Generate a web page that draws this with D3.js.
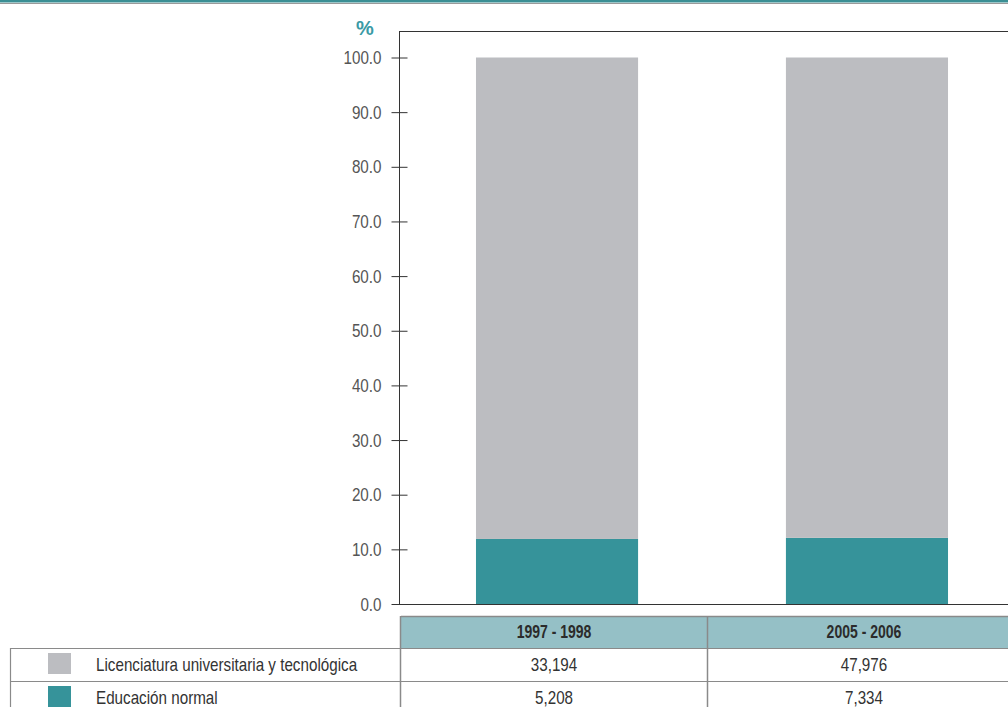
<!DOCTYPE html>
<html><head><meta charset="utf-8">
<script src="https://cdn.jsdelivr.net/npm/d3@7"></script>
<style>
html,body{margin:0;padding:0;background:#fff;}
svg{display:block;font-family:"Liberation Sans",Arial,sans-serif;}
</style></head>
<body>
<svg id="c" width="1008" height="707"></svg>
<script>
const categories = ["1997 - 1998", "2005 - 2006"];
const seriesNames = ["Licenciatura universitaria y tecnológica", "Educación normal"];
const licenciaturaPct = [88.1, 87.9];
const normalPct = [11.9, 12.1];
const licenciaturaCount = [33194, 47976];
const normalCount = [5208, 7334];
const yTicks = [0, 10, 20, 30, 40, 50, 60, 70, 80, 90, 100];

const svg = d3.select("#c");
const W = 1008;
const colGray = "#bcbdc1", colTeal = "#36939a", colHead = "#95c0c6";

// top decorative rule
svg.append("rect").attr("x",0).attr("y",0).attr("width",W).attr("height",2.5).attr("fill","#3a8f94");
svg.append("line").attr("x1",0).attr("x2",W).attr("y1",3.5).attr("y2",3.5).attr("stroke","#9a9a9a").attr("stroke-width",1);

const y = d3.scaleLinear().domain([0,100]).range([604,57.5]);
const x = d3.scaleBand().domain(categories).range([402,1022]).paddingInner(0.477).paddingOuter(0.2387);

// stacked bars
const rows = categories.map((c,i)=>({cat:c, normal:normalPct[i], lic:licenciaturaPct[i]}));
const stack = d3.stack().keys(["normal","lic"])(rows);
const colors = {normal: colTeal, lic: colGray};
svg.append("g").selectAll("g").data(stack).join("g").attr("fill",d=>colors[d.key])
  .selectAll("rect").data(d=>d).join("rect")
  .attr("x",d=>x(d.data.cat)).attr("width",x.bandwidth())
  .attr("y",d=>y(d[1])).attr("height",d=>y(d[0])-y(d[1]));

// frame lines
svg.append("line").attr("x1",399).attr("x2",W).attr("y1",31.5).attr("y2",31.5).attr("stroke","#333").attr("stroke-width",1);
svg.append("line").attr("x1",399).attr("x2",W).attr("y1",604.5).attr("y2",604.5).attr("stroke","#333").attr("stroke-width",1.2);

// y axis
const yAxis = d3.axisLeft(y).tickValues(yTicks).tickFormat(d3.format(".1f")).tickSizeInner(8).tickSizeOuter(0).tickPadding(10);
const ga = svg.append("g").attr("transform","translate(399.5,0)").call(yAxis);
ga.select(".domain").attr("d","M0,31V604").attr("stroke","#333");
ga.selectAll(".tick line").attr("x1",-8).attr("x2",8).attr("stroke","#333");
ga.selectAll(".tick text").attr("class","nar").attr("font-size",19).attr("fill","#555").attr("font-family","Liberation Sans, Arial, sans-serif");

svg.append("text").attr("x",365).attr("y",35).attr("text-anchor","middle")
  .attr("font-size",20).attr("font-weight","bold").attr("fill","#3a9aa5").text("%");

// data table
const fmt = d3.format(",");
const tableTop = 616, headH = 32, rowH = 33;
const lineCol = "#8a8a8a";
// header
svg.append("rect").attr("x",401).attr("y",tableTop).attr("width",W-401).attr("height",headH).attr("fill",colHead);
svg.append("line").attr("x1",401).attr("x2",W).attr("y1",tableTop+0.5).attr("y2",tableTop+0.5).attr("stroke",lineCol).attr("stroke-width",1.5);
svg.selectAll(".hd").data(categories).join("text").attr("class","nar")
  .attr("x",d=>x(d)+x.bandwidth()/2-3).attr("y",tableTop+22).attr("text-anchor","middle")
  .attr("font-size",17.5).attr("font-weight","bold").attr("fill","#2b2b2b").text(d=>d);
// row lines
[tableTop+headH, tableTop+headH+rowH].forEach(yy=>{
  svg.append("line").attr("x1",10.5).attr("x2",W).attr("y1",yy+0.5).attr("y2",yy+0.5).attr("stroke",lineCol).attr("stroke-width",1.2);
});
svg.append("line").attr("x1",10.5).attr("x2",10.5).attr("y1",tableTop+headH).attr("y2",707).attr("stroke",lineCol).attr("stroke-width",1.2);
svg.append("line").attr("x1",400.5).attr("x2",400.5).attr("y1",tableTop).attr("y2",707).attr("stroke",lineCol).attr("stroke-width",1.5);
svg.append("line").attr("x1",707.5).attr("x2",707.5).attr("y1",tableTop).attr("y2",707).attr("stroke",lineCol).attr("stroke-width",1.5);

const tableRows = [
  {name: seriesNames[0], color: colGray, vals: licenciaturaCount},
  {name: seriesNames[1], color: colTeal, vals: normalCount}
];
tableRows.forEach((r,i)=>{
  const top = tableTop+headH+i*rowH;
  svg.append("rect").attr("x",48).attr("y",top+5).attr("width",23).attr("height",21).attr("fill",r.color);
  svg.append("text").attr("class","nar").attr("x",96).attr("y",top+23).attr("font-size",19).attr("fill","#333").text(r.name);
  categories.forEach((c,j)=>{
    svg.append("text").attr("class","nar").attr("x",x(c)+x.bandwidth()/2-3).attr("y",top+23).attr("text-anchor","middle")
      .attr("font-size",19).attr("fill","#333").text(fmt(r.vals[j]));
  });
});

// condense text to mimic a narrow typeface
svg.selectAll("text.nar").each(function(){
  const w = this.getComputedTextLength();
  d3.select(this).attr("textLength", (w*0.8).toFixed(1)).attr("lengthAdjust","spacingAndGlyphs");
});
</script>
</body></html>
